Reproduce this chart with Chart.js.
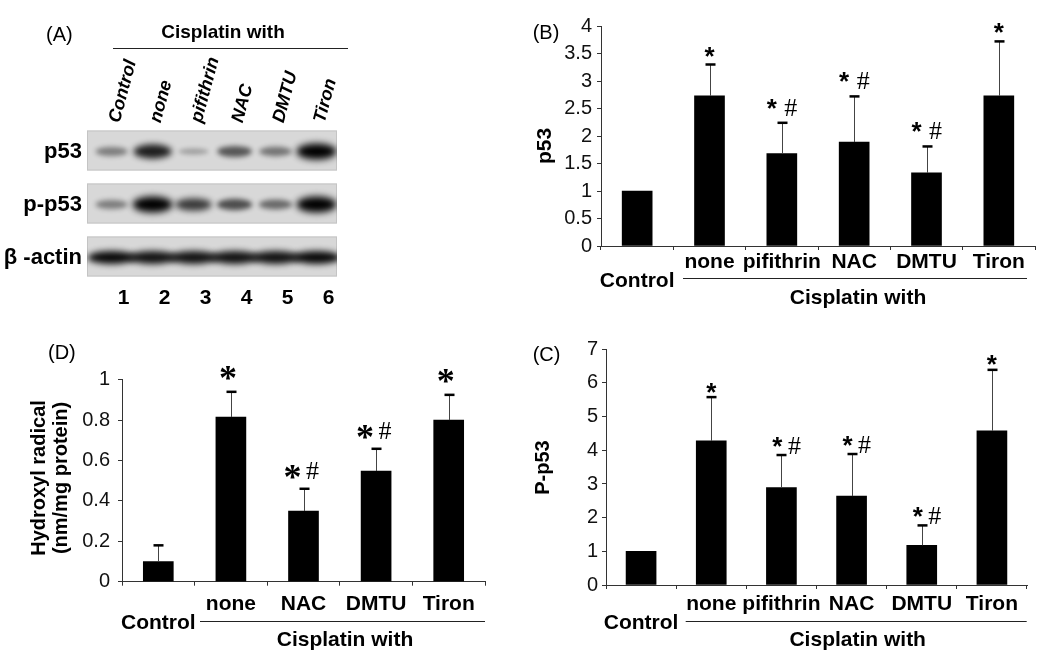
<!DOCTYPE html>
<html lang="en">
<head>
<meta charset="UTF-8">
<title>Cisplatin: p53, p-p53 and hydroxyl radical</title>
<style>
  body { margin: 0; background: #fff; width: 1050px; height: 661px; position: relative; overflow: hidden; }
  canvas { position: absolute; }
</style>
</head>
<body>
<canvas id="blot" style="left:0;top:0" width="370" height="320"></canvas>
<canvas id="chartB" style="left:520px;top:0" width="530" height="330"></canvas>
<canvas id="chartD" style="left:0;top:330px" width="520" height="331"></canvas>
<canvas id="chartC" style="left:520px;top:330px" width="530" height="331"></canvas>

<script src="https://cdn.jsdelivr.net/npm/chart.js"></script>
<script>
// ---- data ----
var lanes = ['Control', 'none', 'pifithrin', 'NAC', 'DMTU', 'Tiron'];
var laneNumbers = ['1', '2', '3', '4', '5', '6'];
var blotRows = ['p53', 'p-p53', 'β -actin'];
var p53Band = [0.35, 0.85, 0.15, 0.55, 0.4, 1.0];
var pp53Band = [0.35, 1.0, 0.7, 0.6, 0.45, 1.0];
var actinBand = [0.95, 0.9, 0.9, 0.9, 0.9, 0.95];

var catsB = ['Control', 'none', 'pifithrin', 'NAC', 'DMTU', 'Tiron'];
var p53Mean = [1.0, 2.73, 1.68, 1.89, 1.33, 2.73];
var p53SD = [0, 0.57, 0.56, 0.83, 0.48, 0.99];
var p53Marks = ['', '*', '*#', '*#', '*#', '*'];

var catsC = ['Control', 'none', 'pifithrin', 'NAC', 'DMTU', 'Tiron'];
var pp53Mean = [1.0, 4.28, 2.89, 2.64, 1.18, 4.58];
var pp53SD = [0, 1.30, 0.97, 1.25, 0.59, 1.81];
var pp53Marks = ['', '*', '*#', '*#', '*#', '*'];

var catsD = ['Control', 'none', 'NAC', 'DMTU', 'Tiron'];
var ohMean = [0.10, 0.815, 0.35, 0.548, 0.80];
var ohSD = [0.08, 0.125, 0.11, 0.11, 0.125];
var ohMarks = ['', '*', '*#', '*#', '*'];

var SANS = '"Liberation Sans", Arial, sans-serif';
var SERIF = '"Liberation Serif", "Times New Roman", serif';
Chart.defaults.font.family = SANS;
Chart.defaults.color = '#000';

// free text and lines of a panel, in canvas pixels
function decor(texts, lines) {
  return {
    id: 'decor',
    afterDraw: function (chart) {
      var ctx = chart.ctx;
      ctx.save();
      ctx.strokeStyle = '#222';
      ctx.lineWidth = 1;
      lines.forEach(function (l) {
        ctx.beginPath();
        ctx.moveTo(l[0], Math.round(l[1]) + 0.5);
        ctx.lineTo(l[2], Math.round(l[3]) + 0.5);
        ctx.stroke();
      });
      ctx.fillStyle = '#000';
      texts.forEach(function (t) {
        ctx.font = t.font;
        ctx.textAlign = t.align || 'center';
        ctx.textBaseline = 'middle';
        ctx.save();
        ctx.translate(t.x, t.y);
        if (t.rot) ctx.rotate(t.rot);
        ctx.fillText(t.text, 0, 0);
        ctx.restore();
      });
      ctx.restore();
    }
  };
}

function glyph(ctx, s, font, cx, cy) {
  ctx.font = font;
  ctx.textAlign = 'center';
  ctx.textBaseline = 'alphabetic';
  var m = ctx.measureText(s);
  ctx.fillText(s, cx, cy + (m.actualBoundingBoxAscent - m.actualBoundingBoxDescent) / 2);
}

function barPanel(id, cats, means, sds, marks, cfg) {
  var cv = document.getElementById(id);
  var W = cv.width, H = cv.height, a = cfg.area;

  var errMarks = {
    id: 'errMarks',
    afterDatasetsDraw: function (chart) {
      var ctx = chart.ctx, ys = chart.scales.y;
      var bars = chart.getDatasetMeta(0).data;
      ctx.save();
      ctx.fillStyle = '#000';
      bars.forEach(function (bar, i) {
        var top = ys.getPixelForValue(means[i] + sds[i]);
        var x = Math.round(bar.x) + 0.5;
        if (sds[i] > 0) {
          ctx.strokeStyle = '#444';
          ctx.lineWidth = 1;
          ctx.beginPath();
          ctx.moveTo(x, ys.getPixelForValue(means[i]));
          ctx.lineTo(x, top);
          ctx.stroke();
          ctx.strokeStyle = '#000';
          ctx.lineWidth = 2.5;
          ctx.beginPath();
          ctx.moveTo(x - 5, top);
          ctx.lineTo(x + 5, top);
          ctx.stroke();
        }
        if (marks[i] === '*') {
          glyph(ctx, '*', cfg.starFont, bar.x + cfg.single[0], top - cfg.single[1]);
        } else if (marks[i] === '*#') {
          glyph(ctx, '*', cfg.starFont, bar.x + cfg.pairStar[0], top - cfg.pairStar[1]);
          glyph(ctx, '#', cfg.hashFont, bar.x + cfg.pairHash[0], top - cfg.pairHash[1]);
        }
      });
      ctx.restore();
    }
  };

  return new Chart(cv, {
    type: 'bar',
    data: {
      labels: cats.map(function (c, i) { return i === 0 ? ['', c] : c; }),
      datasets: [{
        data: means,
        backgroundColor: '#000',
        borderWidth: 0,
        barThickness: 30
      }]
    },
    options: {
      responsive: false,
      animation: false,
      layout: { padding: { left: 0, top: a.top, right: W - a.right, bottom: 0 } },
      plugins: { legend: { display: false }, tooltip: { enabled: false } },
      scales: {
        x: {
          grid: { drawOnChartArea: false, offset: true, tickLength: 4, color: '#333' },
          border: { color: '#333' },
          ticks: {
            autoSkip: false, maxRotation: 0, padding: cfg.xPad, color: '#000',
            font: { size: 21, weight: 'bold', lineHeight: '18.5px' }
          },
          afterFit: function (s) { s.height = H - a.bottom; }
        },
        y: {
          min: 0, max: cfg.yMax,
          grid: { drawOnChartArea: false, tickLength: 4, color: '#333' },
          border: { color: '#333' },
          ticks: {
            stepSize: cfg.yStep, padding: cfg.yPad, color: '#111',
            font: { size: 20 },
            callback: function (v) { return String(Math.round(v * 100) / 100); }
          },
          afterFit: function (s) { s.width = a.left; }
        }
      }
    },
    plugins: [errMarks, decor(cfg.texts, cfg.lines)]
  });
}

// ---- (A) western blot ----
function bandImage(level, wide) {
  var c = document.createElement('canvas');
  c.width = 64; c.height = 40;
  var g = c.getContext('2d');
  g.filter = 'blur(' + (2 + level * 1.5) + 'px)';
  g.fillStyle = 'rgba(0,0,0,' + (0.12 + 0.88 * level) + ')';
  g.beginPath();
  g.ellipse(32, 20, wide ? 24 : 14 + 6 * level, wide ? 6.5 : 2.5 + 5.5 * level, 0, 0, Math.PI * 2);
  g.fill();
  return c;
}

var bandLevels = [p53Band, pp53Band, actinBand];
var laneTicks = function (s) { s.ticks = lanes.map(function (l, i) { return { value: i + 1 }; }); };

var blotBoxes = {
  id: 'blotBoxes',
  beforeDatasetsDraw: function (chart) {
    var ctx = chart.ctx, ca = chart.chartArea, ys = chart.scales.y;
    ctx.save();
    blotRows.forEach(function (r, i) {
      var cy = ys.getPixelForValue(i + 1) - 1;
      ctx.fillStyle = '#d8d8d8';
      ctx.fillRect(ca.left, cy - 20, ca.right - ca.left, 40);
      ctx.strokeStyle = '#c4c4c4';
      ctx.lineWidth = 1;
      ctx.strokeRect(ca.left + 0.5, cy - 19.5, ca.right - ca.left - 1, 39);
    });
    ctx.restore();
  }
};

new Chart(document.getElementById('blot'), {
  type: 'scatter',
  data: {
    datasets: blotRows.map(function (row, r) {
      return {
        data: lanes.map(function (l, i) { return { x: i + 1, y: r + 1 }; }),
        pointStyle: bandLevels[r].map(function (v) { return bandImage(v, r === 2); }),
        pointRadius: 3
      };
    })
  },
  options: {
    responsive: false,
    animation: false,
    layout: { padding: { left: 0, top: 0, right: 33, bottom: 0 } },
    plugins: { legend: { display: false }, tooltip: { enabled: false } },
    scales: {
      x: {
        type: 'linear', position: 'bottom', min: 0.4, max: 6.5,
        afterBuildTicks: laneTicks,
        grid: { display: false, drawTicks: false }, border: { display: false },
        ticks: {
          maxRotation: 0, padding: 2, labelOffset: 12, color: '#000',
          font: { size: 21, weight: 'bold' },
          callback: function (v, i) { return laneNumbers[i]; }
        },
        afterFit: function (s) { s.height = 36; }
      },
      top: {
        type: 'linear', axis: 'x', position: 'top', min: 0.4, max: 6.5,
        afterBuildTicks: laneTicks,
        grid: { display: false, drawTicks: false }, border: { display: false },
        ticks: {
          minRotation: 75, maxRotation: 75, padding: 0, labelOffset: 24, color: '#000',
          font: { size: 18, weight: 'bold', style: 'italic' },
          callback: function (v, i) { return lanes[i]; }
        },
        afterFit: function (s) { s.height = 125; }
      },
      y: {
        type: 'linear', reverse: true, min: 0.5, max: 3.5,
        afterBuildTicks: function (s) { s.ticks = blotRows.map(function (r, i) { return { value: i + 1 }; }); },
        grid: { display: false, drawTicks: false }, border: { display: false },
        ticks: {
          padding: 5, color: '#000',
          font: { size: 22, weight: 'bold' },
          callback: function (v, i) { return blotRows[i]; }
        },
        afterFit: function (s) { s.width = 87; }
      }
    }
  },
  plugins: [blotBoxes, decor([
    { text: '(A)', x: 46, y: 35, font: '20px ' + SANS, align: 'left' },
    { text: 'Cisplatin with', x: 223, y: 33, font: 'bold 19px ' + SANS }
  ], [[113, 47.7, 348, 47.7]])]
});

// ---- (B) p53 ----
barPanel('chartB', catsB, p53Mean, p53SD, p53Marks, {
  area: { left: 81, top: 26, right: 515, bottom: 246 },
  yMax: 4, yStep: 0.5, xPad: 3.3, yPad: 5,
  single: [0, 13], pairStar: [-10, 19], pairHash: [9, 15.5],
  starFont: 'bold 26px ' + SANS, hashFont: '26px ' + SERIF,
  texts: [
    { text: '(B)', x: 12.7, y: 33, font: '20px ' + SANS, align: 'left' },
    { text: 'p53', x: 25, y: 146, font: 'bold 21px ' + SANS, rot: -Math.PI / 2 },
    { text: 'Cisplatin with', x: 338, y: 298, font: 'bold 21px ' + SANS }
  ],
  lines: [[163, 278, 507, 278]]
});

// ---- (C) P-p53 ----
barPanel('chartC', catsC, pp53Mean, pp53SD, pp53Marks, {
  area: { left: 86, top: 19.3, right: 507, bottom: 255 },
  yMax: 7, yStep: 1, xPad: 6, yPad: 4,
  single: [0, 9.5], pairStar: [-4, 13], pairHash: [13, 9.5],
  starFont: 'bold 26px ' + SANS, hashFont: '26px ' + SERIF,
  texts: [
    { text: '(C)', x: 12.7, y: 25, font: '20px ' + SANS, align: 'left' },
    { text: 'P-p53', x: 23.3, y: 137.5, font: 'bold 20px ' + SANS, rot: -Math.PI / 2 },
    { text: 'Cisplatin with', x: 337.7, y: 310.7, font: 'bold 21px ' + SANS }
  ],
  lines: [[165.7, 290.7, 506.7, 290.7]]
});

// ---- (D) hydroxyl radical ----
barPanel('chartD', catsD, ohMean, ohSD, ohMarks, {
  area: { left: 122, top: 49.7, right: 485, bottom: 251.7 },
  yMax: 1, yStep: 0.2, xPad: 9.3, yPad: 8,
  single: [-3, 18.5], pairStar: [-11, 16.5], pairHash: [9, 18.5],
  starFont: 'bold 36px ' + SERIF, hashFont: '26px ' + SERIF,
  texts: [
    { text: '(D)', x: 48, y: 23, font: '20px ' + SANS, align: 'left' },
    { text: 'Hydroxyl radical', x: 39, y: 148, font: 'bold 20px ' + SANS, rot: -Math.PI / 2 },
    { text: '(nm/mg protein)', x: 61, y: 148, font: 'bold 20px ' + SANS, rot: -Math.PI / 2 },
    { text: 'Cisplatin with', x: 345, y: 310.7, font: 'bold 21px ' + SANS }
  ],
  lines: [[200, 290.7, 485, 290.7]]
});
</script>
</body>
</html>
